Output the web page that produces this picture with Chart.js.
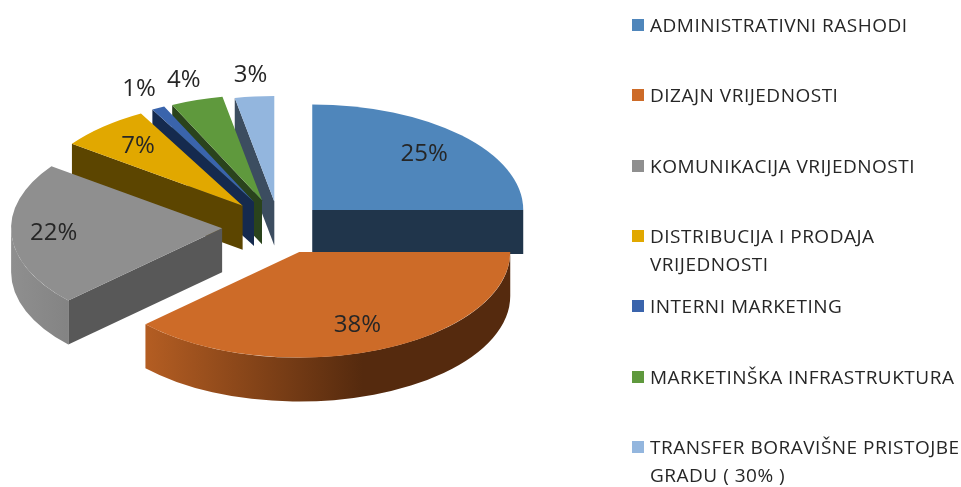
<!DOCTYPE html>
<html>
<head>
<meta charset="utf-8">
<title>Struktura rashoda</title>
<script src="https://cdn.jsdelivr.net/npm/chart.js@4"></script>
<style>
  html, body { margin: 0; padding: 0; background: #fff; }
  #wrap { position: relative; width: 961px; height: 487px; overflow: hidden; }
  #legend { position: absolute; left: 632px; top: 0; width: 329px; margin: 0; padding: 0; list-style: none;
            font: 19px "Open Sans", sans-serif; letter-spacing: 0.5px; color: #262626; }
  #legend li { position: absolute; left: 0; width: 329px; padding-left: 18px; box-sizing: border-box; line-height: 28px; }
  #legend i { position: absolute; left: 0; top: 8px; width: 12px; height: 12px; }
</style>
</head>
<body>
<div id="wrap">
  <canvas id="pie" width="961" height="487"></canvas>
  <ul id="legend"></ul>
</div>
<script>
// Data
const categories = [
  'ADMINISTRATIVNI RASHODI', 'DIZAJN VRIJEDNOSTI', 'KOMUNIKACIJA VRIJEDNOSTI',
  'DISTRIBUCIJA I PRODAJA VRIJEDNOSTI', 'INTERNI MARKETING',
  'MARKETINŠKA INFRASTRUKTURA', 'TRANSFER BORAVIŠNE PRISTOJBE GRADU ( 30% )'
];
const shares = [25, 38, 22, 7, 1, 4, 3];

// Colours: top face, cut face, rim at its darkest
const faceColors = ['#4f86bb', '#cd6b28', '#8f8f8f', '#e1a800', '#3a64ac', '#5f993d', '#93b6de'];
const wallColors = ['#20354b', '#552a0e', '#585858', '#5c4500', '#152a4e', '#2a431c', '#3c4d60'];

const SQUASH = 0.5;      // tilt of the disc
const DEPTH = 44;        // height of the disc in px
const RADIUS = 211;
const explodeBy = [47, 55, 57, 55, 55, 55, 50];

function arcGeometry(arc, i) {
  const { x, y, startAngle, endAngle, outerRadius } = arc.getProps(['x', 'y', 'startAngle', 'endAngle', 'outerRadius']);
  const mid = (startAngle + endAngle) / 2;
  return {
    cx: x + Math.cos(mid) * explodeBy[i],
    cy: y + Math.sin(mid) * explodeBy[i] * SQUASH,
    start: startAngle, end: endAngle, mid: mid, r: outerRadius
  };
}

function cutFace(ctx, g, angle, color) {
  const px = g.cx + Math.cos(angle) * g.r;
  const py = g.cy + Math.sin(angle) * g.r * SQUASH;
  ctx.fillStyle = color;
  ctx.beginPath();
  ctx.moveTo(g.cx, g.cy);
  ctx.lineTo(px, py);
  ctx.lineTo(px, py + DEPTH);
  ctx.lineTo(g.cx, g.cy + DEPTH);
  ctx.closePath();
  ctx.fill();
}

// replaces the normal dataset draw: walls, then flattened arcs, then labels
const disc3d = {
  id: 'disc3d',
  beforeDatasetsDraw(chart) {
    const ctx = chart.ctx;
    const arcs = chart.getDatasetMeta(0).data;
    for (let i = arcs.length - 1; i >= 0; i--) {
      const g = arcGeometry(arcs[i], i);
      if (Math.cos(g.start) < -0.001) cutFace(ctx, g, g.start, wallColors[i]);
      if (Math.cos(g.end) > 0.001) cutFace(ctx, g, g.end, wallColors[i]);

      // rim: only the part between 0 and 180 deg faces the viewer
      const from = Math.max(g.start, 0);
      const to = Math.min(g.end, Math.PI);
      if (to > from) {
        const grad = ctx.createLinearGradient(g.cx - g.r, 0, g.cx + g.r * 0.3, 0);
        grad.addColorStop(0, faceColors[i]);
        grad.addColorStop(1, wallColors[i]);
        ctx.fillStyle = grad;
        ctx.beginPath();
        ctx.ellipse(g.cx, g.cy, g.r, g.r * SQUASH, 0, from, to);
        ctx.ellipse(g.cx, g.cy + DEPTH, g.r, g.r * SQUASH, 0, to, from, true);
        ctx.closePath();
        ctx.fill();
      }
    }

    // top faces, the element's own offset option would also grow narrow slices
    arcs.forEach((arc, i) => {
      const g = arcGeometry(arc, i);
      ctx.save();
      ctx.translate(g.cx, g.cy);
      ctx.scale(1, SQUASH);
      ctx.translate(-arc.x, -arc.y);
      arc.draw(ctx);
      ctx.restore();
    });

    // percent labels, small slices get theirs outside
    ctx.font = '24px "Open Sans", sans-serif';
    ctx.fillStyle = '#262626';
    ctx.textAlign = 'center';
    ctx.textBaseline = 'middle';
    arcs.forEach((arc, i) => {
      const g = arcGeometry(arc, i);
      const k = shares[i] <= 4 ? 1.2 : (shares[i] === 22 ? 0.8 : 0.75);
      ctx.fillText(shares[i] + '%', g.cx + Math.cos(g.mid) * g.r * k, g.cy + Math.sin(g.mid) * g.r * k * SQUASH);
    });
    return false;
  }
};

new Chart(document.getElementById('pie'), {
  type: 'pie',
  data: {
    labels: categories,
    datasets: [{
      data: shares,
      backgroundColor: faceColors,
      borderWidth: 0
    }]
  },
  options: {
    responsive: false,
    animation: false,
    radius: RADIUS,
    events: [],
    layout: { padding: { right: 403, bottom: 34 } },
    plugins: { legend: { display: false }, tooltip: { enabled: false } }
  },
  plugins: [disc3d]
});

// Legend, one row every 70.3 px
const legendEl = document.getElementById('legend');
categories.forEach((name, i) => {
  const li = document.createElement('li');
  li.style.top = (11 + i * 70.3) + 'px';
  const box = document.createElement('i');
  box.style.background = faceColors[i];
  li.appendChild(box);
  li.appendChild(document.createTextNode(name));
  legendEl.appendChild(li);
});
</script>
</body>
</html>
